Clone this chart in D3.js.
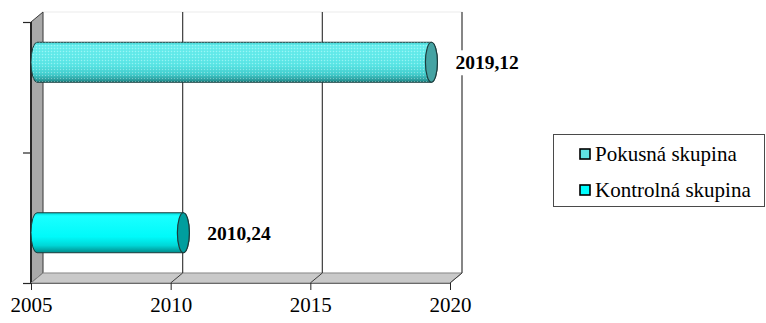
<!DOCTYPE html>
<html>
<head>
<meta charset="utf-8">
<script src="https://cdn.jsdelivr.net/npm/d3@7"></script>
<style>
  html, body { margin: 0; padding: 0; background: #fff; }
  svg { display: block; }
</style>
</head>
<body>
<svg id="chart" width="766" height="323"></svg>
<script>
// Two groups (drawn top to bottom), two series; each group carries one value.
const categories = ["Skupina A", "Skupina B"];
const seriesNames = ["Pokusná skupina", "Kontrolná skupina"];
const pokusnaValues = [2019.12, null];
const kontrolnaValues = [null, 2010.24];
const xTicks = [2005, 2010, 2015, 2020];
const xDomain = [2005, 2020];

const seriesValues = [pokusnaValues, kontrolnaValues];
const FONT = "Liberation Serif";

const svg = d3.select("#chart");

// 3-D frame: front plane and depth offset of the back wall
const plot = { left: 31, right: 450, top: 22, bottom: 283 };
const depth = { dx: 12, dy: -10 };

const xF = d3.scaleLinear().domain(xDomain).range([plot.left, plot.right]);
const xB = v => xF(v) + depth.dx;
const xM = v => xF(v) + depth.dx / 2;

const yBand = d3.scaleBand().domain(categories).range([plot.top, plot.bottom]);
const groupH = yBand.bandwidth() * 0.613;
const ySub = d3.scaleBand().domain(seriesNames).range([0, groupH]);
const yEdges = d3.scaleLinear().domain([0, categories.length]).range([plot.top, plot.bottom]);

const decimalComma = d3.formatLocale({ decimal: ",", thousands: " ", grouping: [3], currency: ["", ""] });
const fmt = decimalComma.format(".2f");

const defs = svg.append("defs");

// Shading for the cylinders (lit from above, dark underside)
const palettes = {
  "Pokusná skupina": { stops: [["0%", "#3fd6d6"], ["8%", "#6ef0f0"], ["55%", "#5ee8e8"], ["80%", "#45cfcf"], ["100%", "#1f8686"]], cap: "#45a3a3", swatch: "#5fe3e3" },
  "Kontrolná skupina": { stops: [["0%", "#00d8d8"], ["8%", "#1affff"], ["60%", "#00fafa"], ["82%", "#00d6d6"], ["100%", "#008a8a"]], cap: "#009e9e", swatch: "#00ffff" }
};
seriesNames.forEach((s, i) => {
  const g = defs.append("linearGradient").attr("id", "grad" + i)
    .attr("x1", 0).attr("y1", 0).attr("x2", 0).attr("y2", 1);
  palettes[s].stops.forEach(([o, c]) => g.append("stop").attr("offset", o).attr("stop-color", c));
});
// fine dither texture on the first series
const pat = defs.append("pattern").attr("id", "dither").attr("patternUnits", "userSpaceOnUse")
  .attr("width", 3).attr("height", 3);
pat.append("rect").attr("x", 0).attr("y", 0).attr("width", 1).attr("height", 1).attr("fill", "#ffffff").attr("opacity", 0.35);
pat.append("rect").attr("x", 1.5).attr("y", 1.5).attr("width", 1).attr("height", 1).attr("fill", "#1f9a9a").attr("opacity", 0.25);

// Back wall
svg.append("rect")
  .attr("x", xB(xDomain[0])).attr("y", plot.top + depth.dy)
  .attr("width", xB(xDomain[1]) - xB(xDomain[0])).attr("height", plot.bottom - plot.top)
  .attr("fill", "#ffffff").attr("stroke", "#ececec").attr("stroke-width", 1);

// Left side wall
svg.append("polygon")
  .attr("points", [
    [plot.left, plot.top], [plot.left + depth.dx, plot.top + depth.dy],
    [plot.left + depth.dx, plot.bottom + depth.dy], [plot.left, plot.bottom]
  ].map(p => p.join(",")).join(" "))
  .attr("fill", "#a9a9a9").attr("stroke", "#3a3a3a").attr("stroke-width", 1);
svg.append("line")
  .attr("x1", plot.left).attr("y1", plot.top).attr("x2", plot.left).attr("y2", plot.bottom)
  .attr("stroke", "#262626").attr("stroke-width", 2);

// Floor
svg.append("polygon")
  .attr("points", [
    [plot.left, plot.bottom], [plot.left + depth.dx, plot.bottom + depth.dy],
    [plot.right + depth.dx, plot.bottom + depth.dy], [plot.right, plot.bottom]
  ].map(p => p.join(",")).join(" "))
  .attr("fill", "#c9c9c9").attr("stroke", "#8a8a8a").attr("stroke-width", 1);

// Vertical gridlines on the back wall and their continuation across the floor
const grid = svg.append("g");
xTicks.filter(t => t > xDomain[0]).forEach(t => {
  grid.append("line")
    .attr("x1", xB(t)).attr("x2", xB(t))
    .attr("y1", plot.top + depth.dy).attr("y2", plot.bottom + depth.dy)
    .attr("stroke", "#3c3c3c").attr("stroke-width", 1.2);
  grid.append("line")
    .attr("x1", xF(t)).attr("y1", plot.bottom)
    .attr("x2", xB(t)).attr("y2", plot.bottom + depth.dy)
    .attr("stroke", "#3c3c3c").attr("stroke-width", 1);
});

// Axes
const xAxis = svg.append("g")
  .attr("transform", `translate(0,${plot.bottom})`)
  .call(d3.axisBottom(xF).tickValues(xTicks).tickFormat(d3.format("d")).tickSize(7).tickSizeOuter(0));
xAxis.attr("font-family", FONT);
xAxis.select(".domain").attr("stroke", "#6a6a6a");
xAxis.selectAll(".tick line").attr("stroke", "#262626");
xAxis.selectAll(".tick text")
  .attr("font-family", FONT)
  .attr("font-size", 21).attr("fill", "#000").attr("dy", "0.75em").attr("y", 13);

const yAxis = svg.append("g")
  .attr("transform", `translate(${plot.left},0)`)
  .call(d3.axisLeft(yEdges).ticks(categories.length).tickFormat("").tickSize(8).tickSizeOuter(0));
yAxis.select(".domain").remove();
yAxis.selectAll(".tick line").attr("stroke", "#262626").attr("stroke-width", 1.2);

// Cylinder bars
const rx = depth.dx / 2;
const bars = svg.append("g");
const labels = svg.append("g");
categories.forEach((cat, ci) => {
  seriesNames.forEach((s, si) => {
    const v = seriesValues[si][ci];
    if (v == null) return;
    const y0 = yBand(cat) + (yBand.bandwidth() - groupH) / 2 + ySub(s) + depth.dy / 2;
    const h = ySub.bandwidth();
    const ry = h / 2;
    const x0 = xM(xDomain[0]);
    const x1 = xM(v);
    const body = `M${x0},${y0} L${x1},${y0} A${rx},${ry} 0 0 1 ${x1},${y0 + h} L${x0},${y0 + h} A${rx},${ry} 0 0 1 ${x0},${y0} Z`;
    bars.append("path").attr("d", body).attr("fill", `url(#grad${si})`)
      .attr("stroke", "#1c3c3c").attr("stroke-width", 1);
    if (si === 0) {
      bars.append("path").attr("d", body).attr("fill", "url(#dither)").attr("stroke", "none");
    }
    bars.append("ellipse").attr("cx", x1).attr("cy", y0 + ry).attr("rx", rx).attr("ry", ry)
      .attr("fill", palettes[s].cap).attr("stroke", "#1c3c3c").attr("stroke-width", 1.2);

    // value label
    const lx = x1 + 24, ly = y0 + ry;
    const t = labels.append("text")
      .attr("x", lx).attr("y", ly).attr("dy", "0.36em")
      .attr("font-family", FONT)
      .attr("font-size", 19.5).attr("font-weight", "bold").attr("fill", "#000")
      .text(fmt(v));
    const bb = t.node().getBBox();
    labels.insert("rect", "text")
      .attr("x", bb.x - 3).attr("y", bb.y - 2).attr("width", bb.width + 6).attr("height", bb.height + 4)
      .attr("fill", "#fff");
  });
});

// Legend
const lg = svg.append("g");
lg.append("rect").attr("x", 553.5).attr("y", 134.5).attr("width", 211).attr("height", 72)
  .attr("fill", "#fff").attr("stroke", "#4a4a4a").attr("stroke-width", 1);
seriesNames.forEach((s, i) => {
  const base = 161 + i * 36;
  lg.append("rect").attr("x", 580).attr("y", base - 12).attr("width", 10).attr("height", 10)
    .attr("fill", palettes[s].swatch).attr("stroke", "#000").attr("stroke-width", 1.6);
  lg.append("text").attr("x", 595).attr("y", base)
    .attr("font-family", FONT)
    .attr("font-size", 21).attr("fill", "#000").text(s);
});
</script>
</body>
</html>
